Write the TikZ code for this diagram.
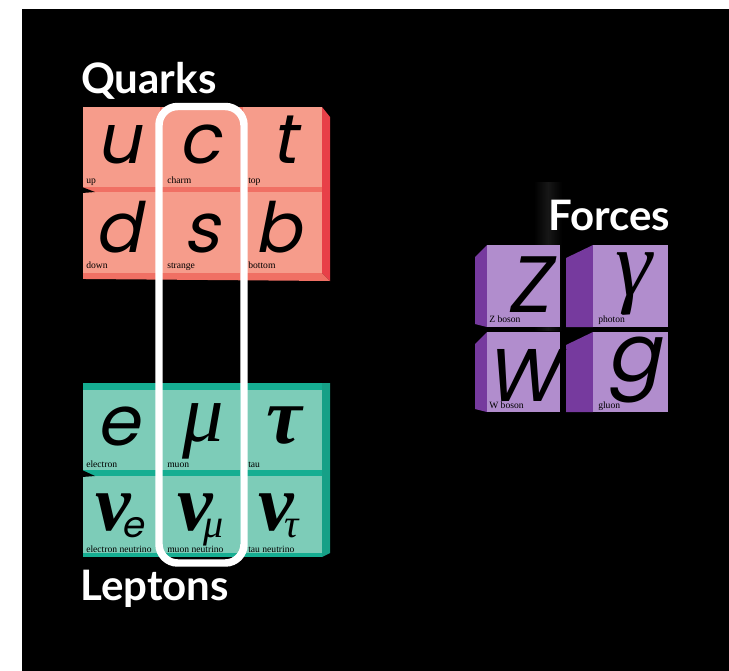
\documentclass[tikz,border=0pt]{standalone}
\usepackage{fontspec}
\setmainfont{Liberation Serif}
\newfontfamily\headfont{Lato}
\newfontfamily\geofont[FakeSlant=0.2]{Poppins}
\usetikzlibrary{positioning}
\definecolor{quarkfront}{RGB}{246,156,139}
\definecolor{quarkdark}{RGB}{240,112,100}
\definecolor{quarkside}{RGB}{232,64,72}
\definecolor{leptonfront}{RGB}{125,204,184}
\definecolor{leptondark}{RGB}{22,174,146}
\definecolor{leptonside}{RGB}{22,160,135}
\definecolor{forcefront}{RGB}{177,141,205}
\definecolor{forceside}{RGB}{118,58,158}

\begin{document}
\begin{tikzpicture}[x=0.75pt,y=-0.75pt,
  heading/.style={text=white,inner sep=0pt,anchor=base west,font=\headfont\bfseries\fontsize{31.5}{32}\selectfont},
  bigletter/.style={inner sep=0pt,anchor=base,text depth=0pt,font=\geofont\fontsize{52}{52}\selectfont},
  bosonletter/.style={bigletter,font=\geofont\fontsize{60}{60}\selectfont},
  greekletter/.style={inner sep=0pt,anchor=base,text depth=0pt,font=\bfseries\itshape\fontsize{60}{60}\selectfont},
  subletter/.style={inner sep=0pt,anchor=base west,text depth=0pt},
  lbl/.style={inner sep=0pt,anchor=base west,font=\fontsize{7.2}{7.5}\selectfont}]
\useasboundingbox (0,0) rectangle (729,671);
\fill[white] (0,0) rectangle (729,671);
\fill[black] (22,9) rectangle (729,671);
% faint glow behind the forces
\shade[left color=black,right color=black,middle color=black!91!white] (534,182) rectangle (562,330);

% quark block
\fill[quarkdark] (83,107) rectangle (322,279);
\foreach \x/\w in {83/77,162/78,243/79}{
  \fill[quarkfront] (\x,107) rectangle ++(\w,80);
  \fill[quarkfront] (\x,192) rectangle ++(\w,81);
}
\fill[quarkdark] (83,273) -- (322,273) -- (330,281) -- (86,279) -- cycle;
\fill[quarkside] (322,107) -- (330,117) -- (330,281) -- (322,273) -- cycle;
\fill[black] (82,187) -- (95,192) -- (82,193) -- cycle;

% lepton block
\fill[leptondark] (83,383) rectangle (322,557);
\foreach \x/\w in {83/77,162/78,243/79}{
  \fill[leptonfront] (\x,390) rectangle ++(\w,80);
  \fill[leptonfront] (\x,476) rectangle ++(\w,77);
}
\fill[leptonside] (322,383) -- (330,383) -- (330,553) -- (322,557) -- cycle;
\fill[black] (82,470) -- (95,476) -- (82,477) -- cycle;

% force blocks
\foreach \y/\h in {245/82,332/80}{
  \fill[forceside] (475,\y+12) -- (487,\y) -- (487,\y+\h) -- (475,\y+\h-3) -- cycle;
  \fill[forcefront] (487,\y) rectangle ++(73,\h);
  \fill[forceside] (566,\y+13) -- (593,\y) -- (593,\y+\h) -- (566,\y+\h) -- cycle;
  \fill[forcefront] (593,\y) rectangle ++(75,\h);
}

% second generation frame
\draw[white,line width=5.6pt,rounded corners=14pt] (159,106.5) rectangle (244,563);

% headings
\node[heading] (quarks) at (81,93) {Quarks};
\node[heading] (leptons) at (80,600) {Leptons};
\node[heading] (forces) at (548,230) {Forces};

% quarks
\node[bigletter] (up) at (119,163) {u};
\node[bigletter] (charm) at (200,163) {c};
\node[bigletter] (top) at (284,163) {t};
\node[bigletter] (down) at (118,252) {d};
\node[bigletter] (strange) at (202,252) {s};
\node[bigletter] (bottom) at (278,252) {b};
\node[lbl] (uplbl) at (86,183) {up};
\node[lbl] (charmlbl) at (167,183) {charm};
\node[lbl] (toplbl) at (248,183) {top};
\node[lbl] (downlbl) at (86,268) {down};
\node[lbl] (strangelbl) at (167,268) {strange};
\node[lbl] (bottomlbl) at (248,268) {bottom};

% leptons
\node[bigletter] (electron) at (118,445) {e};
\node[greekletter,font=\itshape\fontsize{62}{62}\selectfont] (muon) at (203,441) {μ};
\node[greekletter] (tau) at (284,443) {τ};
\node[greekletter] (enu) at (113,530) {ν};
\node[subletter,font=\geofont\fontsize{27}{27}\selectfont] (enusub) at (121,537) {e};
\node[greekletter] (munu) at (195,530) {ν};
\node[subletter,font=\itshape\fontsize{30}{30}\selectfont] (munusub) at (203,537) {μ};
\node[greekletter] (taunu) at (276,530) {ν};
\node[subletter,font=\itshape\fontsize{30}{30}\selectfont] (taunusub) at (284,537) {τ};
\node[lbl] (electronlbl) at (86,467) {electron};
\node[lbl] (muonlbl) at (167,467) {muon};
\node[lbl] (taulbl) at (248,467) {tau};
\node[lbl] (enulbl) at (86,552) {electron neutrino};
\node[lbl] (munulbl) at (167,552) {muon neutrino};
\node[lbl] (taunulbl) at (248,552) {tau neutrino};

% forces
\node[bosonletter] (zboson) at (528,312) {Z};
\node[greekletter,font=\itshape\fontsize{70}{70}\selectfont] (photon) at (634,295) {γ};
\node[bosonletter,font=\geofont\fontsize{56}{60}\selectfont] (wboson) at (522,401) {W};
\node[bosonletter] (gluon) at (634,381) {g};
\node[lbl] (zlbl) at (489,322) {Z boson};
\node[lbl] (photonlbl) at (598,322) {photon};
\node[lbl] (wlbl) at (489,408) {W boson};
\node[lbl] (gluonlbl) at (598,408) {gluon};
\end{tikzpicture}
\end{document}
